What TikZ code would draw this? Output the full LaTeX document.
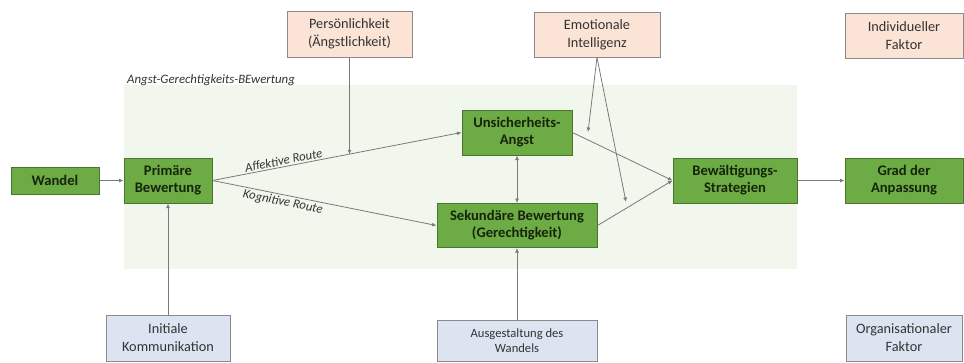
\documentclass[tikz,border=0pt]{standalone}
\usepackage{fontspec}
\setmainfont{Carlito}
\usetikzlibrary{arrows.meta,calc}
\definecolor{gfill}{HTML}{6DAB45}
\definecolor{gdraw}{HTML}{4A7530}
\definecolor{gtext}{HTML}{16240B}
\definecolor{pfill}{HTML}{FBE3D6}
\definecolor{bfill}{HTML}{DCE4F2}
\definecolor{bdraw}{HTML}{8A8A8A}
\definecolor{region}{HTML}{F2F7EE}
\definecolor{ln}{HTML}{7A7A7A}
\definecolor{txt}{HTML}{333333}
\begin{document}
\begin{tikzpicture}[x=1pt,y=-1pt,
  gbox/.style={rectangle,draw=gdraw,fill=gfill,line width=1pt,align=center,
     font=\fontsize{14.6}{17}\selectfont\bfseries,text=gtext,inner sep=0pt},
  pbox/.style={rectangle,draw=bdraw,fill=pfill,line width=1pt,align=center,
     font=\fontsize{14.3}{18}\selectfont,text=txt,inner sep=0pt},
  bbox/.style={rectangle,draw=bdraw,fill=bfill,line width=1pt,align=center,
     font=\fontsize{14.3}{18}\selectfont,text=txt,inner sep=0pt},
  conn/.style={draw=ln,line width=0.8pt,-{Latex[length=4.5pt,width=4pt]}},
  lbl/.style={font=\fontsize{12.8}{14}\selectfont\itshape,text=txt}
]
\useasboundingbox (0,0) rectangle (964,362);
\fill[region] (124,85) rectangle (797,269);
\node[lbl,anchor=south west,inner sep=1pt] (reglabel) at (126,87) {Angst-Gerechtigkeits-BEwertung};

\node[gbox,minimum width=88pt,minimum height=27pt] (wandel) at (55,180.5) {Wandel};
\node[gbox,minimum width=88pt,minimum height=45pt] (prim) at (168,180.5) {Primäre\\Bewertung};
\node[gbox,minimum width=110pt,minimum height=45pt] (unsich) at (517,132.5) {Unsicherheits-\\Angst};
\node[gbox,minimum width=160pt,minimum height=44pt] (sek) at (517,225.5) {Sekundäre Bewertung\\(Gerechtigkeit)};
\node[gbox,minimum width=124pt,minimum height=45pt] (bew) at (735,180.5) {Bewältigungs-\\Strategien};
\node[gbox,minimum width=118pt,minimum height=45pt] (grad) at (904,180.5) {Grad der\\Anpassung};

\node[pbox,minimum width=125pt,minimum height=46pt] (pers) at (349.5,34) {Persönlichkeit\\(Ängstlichkeit)};
\node[pbox,minimum width=126pt,minimum height=45pt] (emo) at (597,34.5) {Emotionale\\Intelligenz};
\node[pbox,minimum width=118pt,minimum height=45pt] (indiv) at (904,35.5) {Individueller\\Faktor};

\node[bbox,minimum width=124pt,minimum height=46pt] (init) at (168,338) {Initiale\\Kommunikation};
\node[bbox,minimum width=160pt,minimum height=41pt,font=\fontsize{12.6}{15}\selectfont] (ausg) at (517,340.5) {Ausgestaltung des\\Wandels};
\node[bbox,minimum width=116pt,minimum height=46pt] (org) at (904,338) {Organisationaler\\Faktor};

\draw[conn] (wandel) -- (prim);
\draw[conn] (prim.east) -- node[lbl,pos=0.29,sloped,above,inner sep=1.5pt] {Affektive Route} (unsich.west);
\draw[conn] (prim.east) -- node[lbl,pos=0.32,sloped,below,inner sep=1.5pt] {Kognitive Route} (sek.west);
\coordinate (p1) at ($(prim.east)!0.546!(unsich.west)$);
\draw[conn] (pers.south) -- (pers.south |- p1);
\coordinate (e1) at (588,132);
\coordinate (e2) at (626,202);
\draw[conn] (emo.south) -- (e1);
\draw[conn] (emo.south) -- (e2);
\draw[conn,{Latex[length=4.5pt,width=4pt]}-{Latex[length=4.5pt,width=4pt]}] (unsich.south) -- (sek.north);
\draw[conn] (unsich.east) -- (bew.west);
\draw[conn] (sek.east) -- (bew.west);
\draw[conn] (bew) -- (grad);
\draw[conn] (init.north) -- (prim.south);
\draw[conn] (ausg.north) -- (sek.south);
\end{tikzpicture}
\end{document}
